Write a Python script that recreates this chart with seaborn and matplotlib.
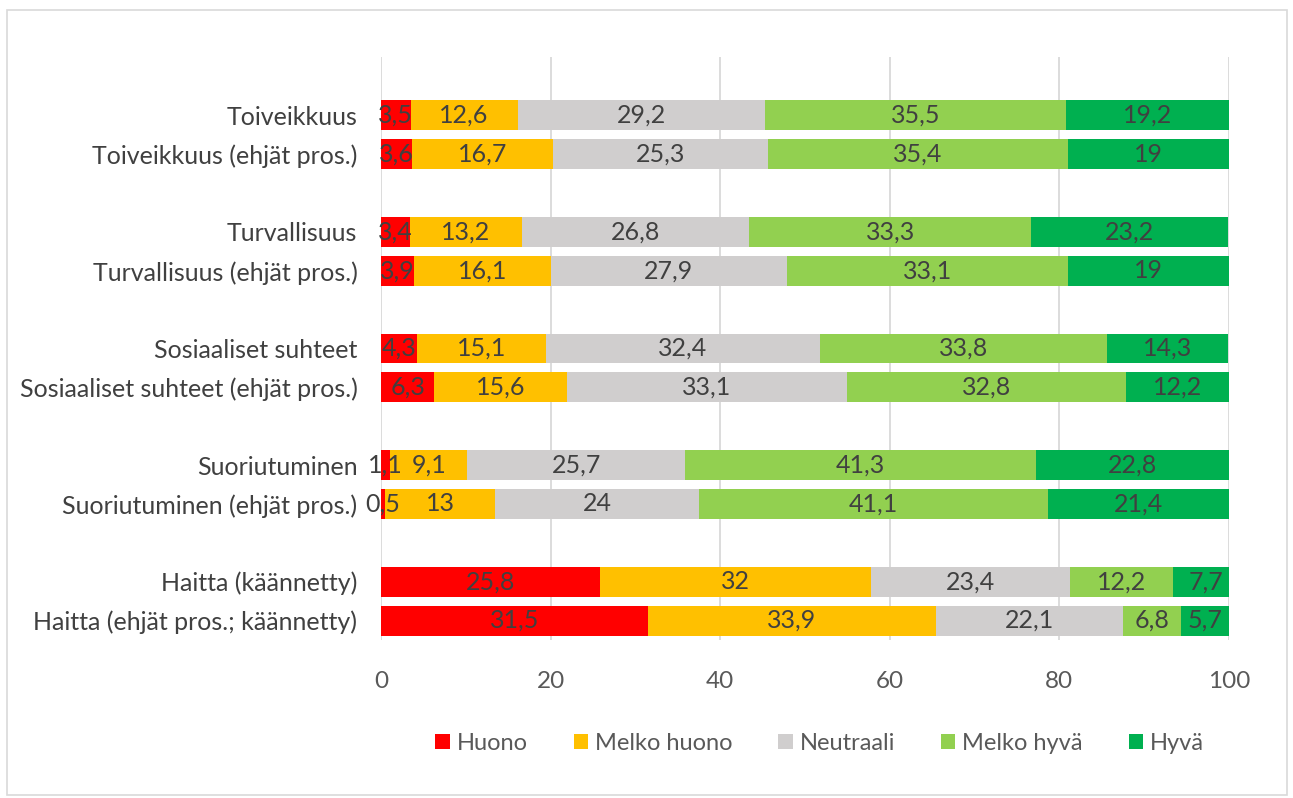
import numpy as np
import pandas as pd
import matplotlib
matplotlib.use("Agg")
import matplotlib.pyplot as plt
from matplotlib.patches import Rectangle, Patch
import seaborn as sns

categories = [
    "Toiveikkuus", "Toiveikkuus (ehjät pros.)",
    "Turvallisuus", "Turvallisuus (ehjät pros.)",
    "Sosiaaliset suhteet", "Sosiaaliset suhteet (ehjät pros.)",
    "Suoriutuminen", "Suoriutuminen (ehjät pros.)",
    "Haitta (käännetty)", "Haitta (ehjät pros.; käännetty)",
]
series = ["Huono", "Melko huono", "Neutraali", "Melko hyvä", "Hyvä"]
huono = [3.5, 3.6, 3.4, 3.9, 4.3, 6.3, 1.1, 0.5, 25.8, 31.5]
melko_huono = [12.6, 16.7, 13.2, 16.1, 15.1, 15.6, 9.1, 13, 32, 33.9]
neutraali = [29.2, 25.3, 26.8, 27.9, 32.4, 33.1, 25.7, 24, 23.4, 22.1]
melko_hyva = [35.5, 35.4, 33.3, 33.1, 33.8, 32.8, 41.3, 41.1, 12.2, 6.8]
hyva = [19.2, 19, 23.2, 19, 14.3, 12.2, 22.8, 21.4, 7.7, 5.7]
xticks = [0, 20, 40, 60, 80, 100]

colors = ["#FF0000", "#FFC000", "#D0CECE", "#92D050", "#00B050"]

sns.set_theme(style="white")
plt.rcParams["font.family"] = ["Lato", "DejaVu Sans"]

values = np.array([huono, melko_huono, neutraali, melko_hyva, hyva])
cum = np.cumsum(values, axis=0)
# positions: pairs with an empty slot between groups
pos = []
for g in range(5):
    pos += [g * 3, g * 3 + 1]
pos = np.array(pos, dtype=float)

fig = plt.figure(figsize=(12.93, 7.98), dpi=100)
ax = fig.add_axes([381 / 1293, 1 - 640 / 798, (1229 - 381) / 1293, (640 - 57) / 798])

for i in range(len(series) - 1, -1, -1):
    df = pd.DataFrame({"x": cum[i], "y": pos})
    sns.barplot(data=df, x="x", y="y", orient="h", native_scale=True,
                color=colors[i], width=0.77, linewidth=0, saturation=1,
                ax=ax, errorbar=None)

def fmt(v):
    return f"{v:g}".replace(".", ",")

for i in range(len(series)):
    for j in range(len(categories)):
        left = cum[i, j] - values[i, j]
        ax.text(left + values[i, j] / 2, pos[j], fmt(values[i, j]),
                ha="center", va="center", fontsize=18, color="#404040")

ax.set_xlim(0, 100)
ax.set_ylim(13.5, -1.5)
ax.set_yticks(pos)
ax.set_yticklabels(categories)
ax.set_xticks(xticks)
ax.set_xticklabels([str(t) for t in xticks])
ax.set_xlabel("")
ax.set_ylabel("")
ax.tick_params(axis="y", length=0, pad=17, labelsize=18, labelcolor="#404040")
ax.tick_params(axis="x", length=0, pad=22, labelsize=17.5, labelcolor="#595959")
ax.grid(axis="x", color="#D9D9D9", linewidth=1.3)
ax.set_axisbelow(True)
for s in ax.spines.values():
    s.set_visible(False)

handles = [Patch(facecolor=c, edgecolor="none") for c in colors]
fig.legend(handles, series, loc="center", bbox_to_anchor=(0.634, 0.068),
           ncol=5, frameon=False, fontsize=17, handlelength=0.6,
           handleheight=0.6, handletextpad=0.3, columnspacing=1.95,
           labelcolor="#595959")

fig.patches.append(Rectangle((7 / 1293, 3 / 798), 1280 / 1293, 785 / 798,
                             transform=fig.transFigure, fill=False,
                             edgecolor="#D9D9D9", linewidth=1.2))

fig.savefig("out.png", dpi=100)
